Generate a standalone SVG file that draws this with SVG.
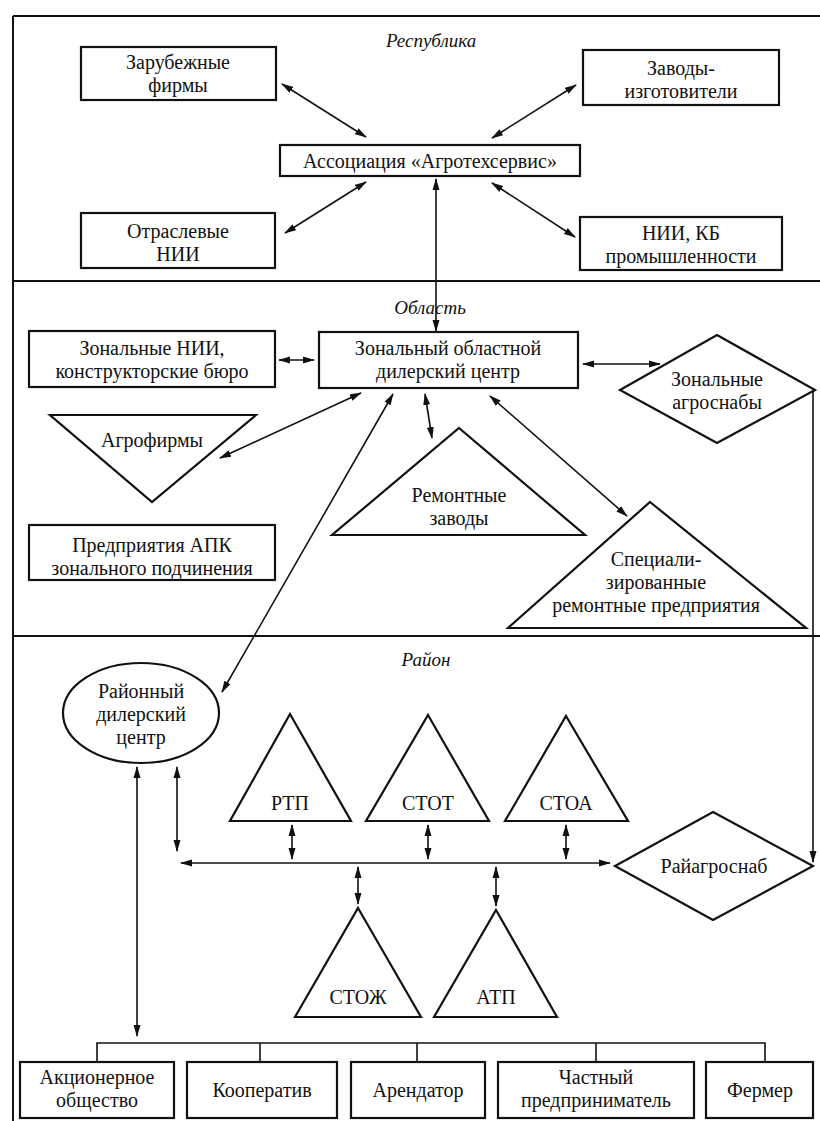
<svg xmlns="http://www.w3.org/2000/svg" width="820" height="1121" viewBox="0 0 820 1121">
<style>
.bg{fill:#ffffff}
.frame{fill:none;stroke:#111;stroke-width:2}
.node{fill:#ffffff;stroke:#111;stroke-width:2.2}
.t{font-family:"Liberation Serif","Times New Roman",serif;font-size:20px;fill:#111;text-anchor:middle}
.lv{font-family:"Liberation Serif","Times New Roman",serif;font-size:19px;font-style:italic;fill:#111;text-anchor:middle}
.c{fill:none;stroke:#111;stroke-width:1.6}
.cb{fill:none;stroke:#111;stroke-width:1.6;marker-start:url(#ah);marker-end:url(#ah)}
.ce{fill:none;stroke:#111;stroke-width:1.6;marker-end:url(#ah)}
</style>
<defs>
<marker id="ah" viewBox="0 0 12 8" refX="11" refY="4" markerWidth="12" markerHeight="8" markerUnits="userSpaceOnUse" orient="auto-start-reverse">
<path d="M0,0.5 L12,4 L0,7.5 z" fill="#111"/>
</marker>
</defs>
<rect class="bg" x="0" y="0" width="820" height="1121"/>
<g id="frame">
<line class="frame" x1="13" y1="16" x2="820" y2="16"/>
<line class="frame" x1="13" y1="16" x2="13" y2="1121"/>
<line class="frame" x1="13" y1="281" x2="820" y2="281"/>
<line class="frame" x1="13" y1="636" x2="820" y2="636"/>
<text class="lv" x="431" y="47">Республика</text>
<text class="lv" x="430" y="314">Область</text>
<text class="lv" x="426" y="666">Район</text>
</g>
<g id="connectors">
<line class="cb" x1="282" y1="84" x2="366" y2="137"/>
<line class="cb" x1="576" y1="85" x2="492" y2="138"/>
<line class="cb" x1="366" y1="182" x2="285" y2="233"/>
<line class="cb" x1="492" y1="183" x2="575" y2="237"/>
<line class="cb" x1="436" y1="179" x2="436" y2="331"/>
<line class="cb" x1="279" y1="360" x2="314" y2="360"/>
<line class="cb" x1="583" y1="364" x2="660" y2="364"/>
<polyline class="ce" points="815,390 813,392 813,862"/>
<line class="cb" x1="361" y1="393" x2="220" y2="458"/>
<line class="cb" x1="425" y1="394" x2="432" y2="438"/>
<line class="cb" x1="490" y1="396" x2="627" y2="516"/>
<line class="cb" x1="393" y1="394" x2="222" y2="692"/>
<line class="cb" x1="137" y1="767" x2="137" y2="1036"/>
<line class="cb" x1="177" y1="767" x2="177" y2="851"/>
<line class="cb" x1="181" y1="863" x2="610" y2="863"/>
<line class="cb" x1="292" y1="825" x2="292" y2="859"/>
<line class="cb" x1="428" y1="825" x2="428" y2="859"/>
<line class="cb" x1="566" y1="825" x2="566" y2="859"/>
<line class="cb" x1="358" y1="867" x2="358" y2="904"/>
<line class="cb" x1="496" y1="867" x2="496" y2="906"/>
<polyline class="c" points="97,1062 97,1043 765,1043 765,1062"/>
<line class="c" x1="260" y1="1043" x2="260" y2="1062"/>
<line class="c" x1="417" y1="1043" x2="417" y2="1062"/>
<line class="c" x1="596" y1="1043" x2="596" y2="1062"/>
</g>
<g id="zarubezhnye">
<rect class="node" x="81" y="47" width="195" height="53"/>
<text class="t" x="178" y="69">Зарубежные</text>
<text class="t" x="178" y="92">фирмы</text>
</g>
<g id="zavody">
<rect class="node" x="583" y="50" width="196" height="55"/>
<text class="t" x="681" y="75">Заводы-</text>
<text class="t" x="681" y="98">изготовители</text>
</g>
<g id="assoc">
<rect class="node" x="280" y="145" width="300" height="31"/>
<text class="t" x="430" y="168">Ассоциация «Агротехсервис»</text>
</g>
<g id="otraslevye">
<rect class="node" x="81" y="213" width="194" height="55"/>
<text class="t" x="178" y="238">Отраслевые</text>
<text class="t" x="178" y="261">НИИ</text>
</g>
<g id="nii-kb">
<rect class="node" x="580" y="217" width="202" height="53"/>
<text class="t" x="681" y="240">НИИ, КБ</text>
<text class="t" x="681" y="263">промышленности</text>
</g>
<g id="zonal-nii">
<rect class="node" x="29" y="331" width="246" height="56"/>
<text class="t" x="152" y="355">Зональные НИИ,</text>
<text class="t" x="152" y="378">конструкторские бюро</text>
</g>
<g id="zonal-center">
<rect class="node" x="319" y="332" width="259" height="56"/>
<text class="t" x="448" y="355">Зональный областной</text>
<text class="t" x="448" y="378">дилерский центр</text>
</g>
<g id="zonal-agrosnab">
<polygon class="node" points="717,335 815,390 717,443 620,390"/>
<text class="t" x="717" y="386">Зональные</text>
<text class="t" x="717" y="409">агроснабы</text>
</g>
<g id="agrofirmy">
<polygon class="node" points="50,415 256,415 152,502"/>
<text class="t" x="152" y="447">Агрофирмы</text>
</g>
<g id="remzavody">
<polygon class="node" points="459,428 585,535 332,535"/>
<text class="t" x="459" y="502">Ремонтные</text>
<text class="t" x="459" y="525">заводы</text>
</g>
<g id="spec">
<polygon class="node" points="650,502 806,628 508,628"/>
<text class="t" x="656" y="566">Специали-</text>
<text class="t" x="656" y="589">зированные</text>
<text class="t" x="656" y="612">ремонтные предприятия</text>
</g>
<g id="apk">
<rect class="node" x="29" y="525" width="246" height="55"/>
<text class="t" x="152" y="552">Предприятия АПК</text>
<text class="t" x="152" y="575">зонального подчинения</text>
</g>
<g id="rayon-center">
<ellipse class="node" cx="141" cy="713" rx="78" ry="50"/>
<text class="t" x="141" y="698">Районный</text>
<text class="t" x="141" y="721">дилерский</text>
<text class="t" x="141" y="744">центр</text>
</g>
<g id="rtp">
<polygon class="node" points="290,714 351,821 230,821"/>
<text class="t" x="290" y="810">РТП</text>
</g>
<g id="stot">
<polygon class="node" points="428,715 489,821 366,821"/>
<text class="t" x="428" y="810">СТОТ</text>
</g>
<g id="stoa">
<polygon class="node" points="566,716 628,821 505,821"/>
<text class="t" x="566" y="810">СТОА</text>
</g>
<g id="rayagrosnab">
<polygon class="node" points="713,812 813,866 713,920 615,866"/>
<text class="t" x="714" y="873">Райагроснаб</text>
</g>
<g id="stozh">
<polygon class="node" points="358,908 421,1017 295,1017"/>
<text class="t" x="358" y="1004">СТОЖ</text>
</g>
<g id="atp">
<polygon class="node" points="496,910 557,1017 434,1017"/>
<text class="t" x="496" y="1004">АТП</text>
</g>
<g id="ao">
<rect class="node" x="20" y="1062" width="154" height="56"/>
<text class="t" x="97" y="1084">Акционерное</text>
<text class="t" x="97" y="1107">общество</text>
</g>
<g id="koop">
<rect class="node" x="187" y="1062" width="150" height="56"/>
<text class="t" x="262" y="1097">Кооператив</text>
</g>
<g id="arend">
<rect class="node" x="351" y="1062" width="134" height="56"/>
<text class="t" x="418" y="1097">Арендатор</text>
</g>
<g id="chastny">
<rect class="node" x="498" y="1062" width="196" height="56"/>
<text class="t" x="596" y="1084">Частный</text>
<text class="t" x="596" y="1107">предприниматель</text>
</g>
<g id="fermer">
<rect class="node" x="706" y="1062" width="107" height="56"/>
<text class="t" x="760" y="1097">Фермер</text>
</g>
</svg>
